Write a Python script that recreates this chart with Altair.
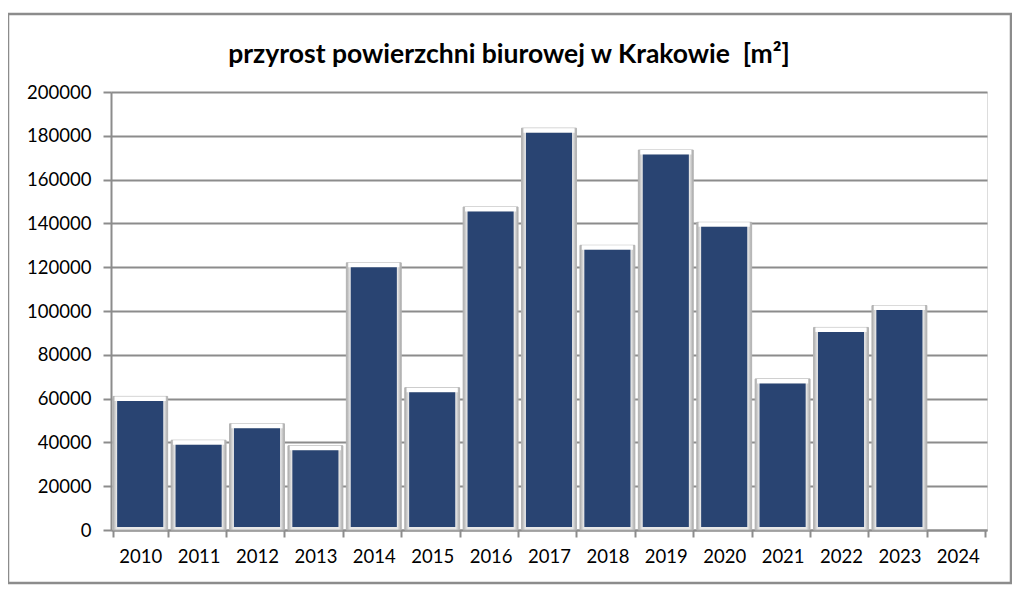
import altair as alt
import pandas as pd

years = [str(y) for y in range(2010, 2025)]
values = [61000, 41000, 48500, 38500, 122000, 65000, 147500, 183500,
          130000, 173500, 140500, 69000, 92500, 102500, None]
y_ticks = list(range(0, 200001, 20000))
title_text = "przyrost powierzchni biurowej w Krakowie\u00a0 [m²]"

df = pd.DataFrame({"rok": years, "wartosc": values})

GRAY = "#8C8C8C"
FONT = "Lato"

x_enc = alt.X(
    "rok:N", sort=years,
    scale=alt.Scale(domain=years, paddingInner=0.06, paddingOuter=0.03),
    axis=alt.Axis(title=None, labelAngle=0, tickBand="extent", grid=False,
                  domainColor=GRAY, domainWidth=2, tickColor=GRAY, tickWidth=2,
                  tickSize=7, labelPadding=10, labelFontSize=18.5, labelFont=FONT,
                  labelColor="#000000"),
)
y_enc = alt.Y(
    "wartosc:Q",
    scale=alt.Scale(domain=[0, 200000], nice=False),
    axis=alt.Axis(title=None, values=y_ticks, format="d", grid=True,
                  gridColor=GRAY, gridWidth=2, domainColor=GRAY, domainWidth=2,
                  tickColor=GRAY, tickWidth=2, tickSize=8, labelPadding=12,
                  labelFontSize=18.5, labelFont=FONT, labelColor="#000000"),
)

base = alt.Chart(df)

frame_grad = alt.Gradient(
    gradient="linear", x1=0, x2=1, y1=0, y2=0,
    stops=[
        alt.GradientStop(offset=0.0, color="#A8A8A8"),
        alt.GradientStop(offset=0.03, color="#C4C4C4"),
        alt.GradientStop(offset=0.07, color="#E8E8E8"),
        alt.GradientStop(offset=0.93, color="#E8E8E8"),
        alt.GradientStop(offset=0.97, color="#C4C4C4"),
        alt.GradientStop(offset=1.0, color="#A8A8A8"),
    ],
)

outer = base.mark_bar(color=frame_grad, stroke="#B4B4B4", strokeWidth=1).encode(
    x=x_enc, y=y_enc, y2=alt.datum(0)
)

top_strip = base.mark_bar(color="#FFFFFF", y2Offset=4.5,
                          width=alt.RelativeBandSize(0.93)).encode(
    x=x_enc, y=y_enc, y2="wartosc:Q"
)

inner = base.mark_bar(color="#294472", yOffset=4.5, y2Offset=-3,
                      width=alt.RelativeBandSize(0.84)).encode(
    x=x_enc, y=y_enc, y2=alt.datum(0)
)

border = alt.Chart(pd.DataFrame({"a": [0]})).mark_rect(
    filled=False, stroke=GRAY, strokeWidth=2.5, clip=False
).encode(
    x=alt.value(-103), x2=alt.value(900), y=alt.value(-78), y2=alt.value(491)
)

chart = alt.layer(outer, top_strip, inner, border).properties(
    width=876, height=438,
    title=alt.TitleParams(text=title_text, font=FONT, fontSize=26.5,
                          fontWeight="bold", color="#000000", anchor="middle",
                          frame="group", dx=-40, dy=56, offset=0),
    autosize=alt.AutoSizeParams(type="none"),
    padding={"left": 103, "top": 84, "right": 25, "bottom": 58},
).configure_view(
    fill="#DBE2EE", stroke="transparent"
).configure(background="#FFFFFF")

chart.save("out.html", embed_options={"renderer": "svg", "actions": False})
